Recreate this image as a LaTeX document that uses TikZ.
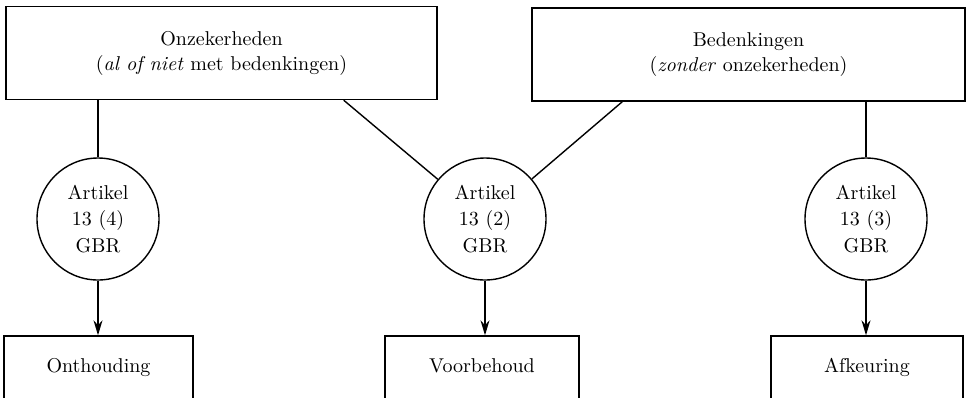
\documentclass[tikz,border=0pt]{standalone}
\usetikzlibrary{arrows.meta}
\tikzset{
  topbox/.style={draw, rectangle, inner sep=0pt, align=center, minimum height=46.5pt,
    font=\fontsize{10}{12.5}\selectfont},
  artikel/.style={draw, circle, inner sep=0pt, align=center, minimum size=61pt,
    font=\fontsize{10}{13.2}\selectfont},
  endbox/.style={draw, rectangle, inner xsep=0pt, inner ysep=0pt, anchor=base,
    text height=18pt, text depth=15pt},
  pijl/.style={-{Stealth[length=7.5pt,width=4.5pt]}}
}
\begin{document}
\begin{tikzpicture}[x=0.5pt,y=-0.5pt,line width=0.7pt]
		\clip (0,0) rectangle (969,397);
		\node[topbox, minimum width=215.5pt] (onz) at (221.5,53) {Onzekerheden\\(\textit{al of niet} met bedenkingen)};
		\node[topbox, minimum width=216.5pt] (bed) at (748.5,54.5) {Bedenkingen\\(\textit{zonder} onzekerheden)};
		\node[artikel] (a4) at (98,219) {Artikel\\13 (4)\\GBR};
		\node[artikel] (a2) at (485,219) {Artikel\\13 (2)\\GBR};
		\node[artikel] (a3) at (866,219) {Artikel\\13 (3)\\GBR};
		\node[endbox, minimum width=94.5pt] (onth) at (98.5,372) {Onthouding};
		\node[endbox, minimum width=97pt] (voor) at (482,372) {Voorbehoud};
		\node[endbox, minimum width=96pt] (afk) at (867,372) {Afkeuring};
		\draw (onz.south -| a4) -- (a4);
		\draw ([xshift=-47pt]onz.south east) -- (a2);
		\draw ([xshift=45.5pt]bed.south west) -- (a2);
		\draw (bed.south -| a3) -- (a3);
		\draw[pijl] (a4) -- (a4 |- onth.north);
		\draw[pijl] (a2) -- (a2 |- voor.north);
		\draw[pijl] (a3) -- (a3 |- afk.north);
	\end{tikzpicture}
\end{document}
